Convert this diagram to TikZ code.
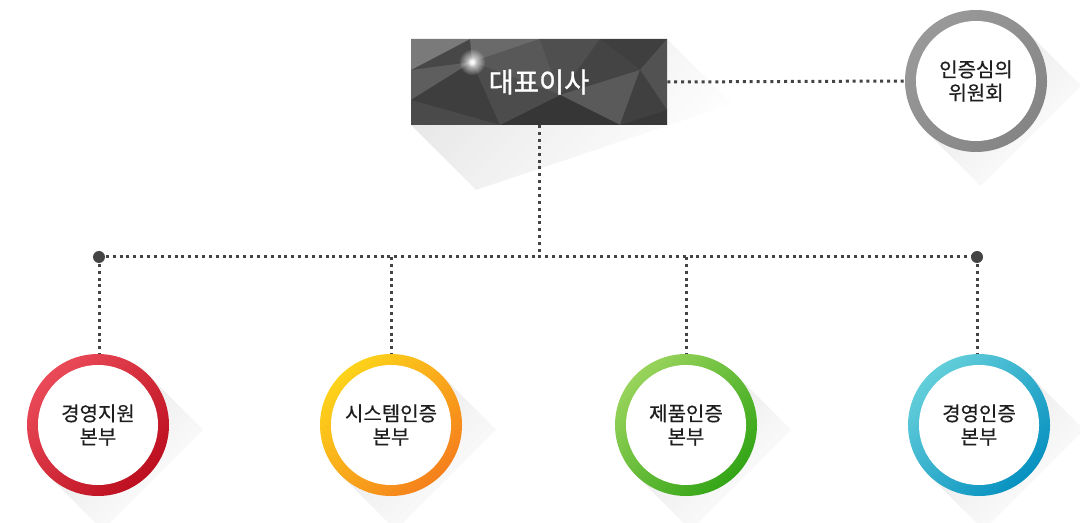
\documentclass[tikz,border=0pt]{standalone}
\usepackage{fontspec}
\newfontfamily\kr{Noto Sans CJK KR}
\newfontfamily\krb[FakeBold=1.2]{Noto Sans CJK KR}
\newfontfamily\krm[FakeBold=0.5]{Noto Sans CJK KR}
\usetikzlibrary{calc,fadings}
\definecolor{dotc}{HTML}{444444}
\definecolor{redA}{HTML}{EA4A58}\definecolor{redB}{HTML}{BC0E1E}
\definecolor{yelA}{HTML}{FDD31A}\definecolor{yelB}{HTML}{F5801C}
\definecolor{grnA}{HTML}{98D35B}\definecolor{grnB}{HTML}{33A516}
\definecolor{bluA}{HTML}{63CEDA}\definecolor{bluB}{HTML}{0791C0}
\definecolor{gryA}{HTML}{999999}\definecolor{gryB}{HTML}{858585}
\definecolor{shd}{HTML}{E6E6E6}
\definecolor{txt}{HTML}{1E1E1E}
\definecolor{boxbase}{HTML}{474747}
\tikzfading[name=glowfade, inner color=transparent!5, outer color=transparent!100]
\tikzset{
  dotline/.style={draw=dotc,line width=2.25pt,dash pattern=on 2.25pt off 2.9pt},
  shadowfill/.style={top color=shd,bottom color=white,shading angle=45},
  circtext/.style={circle,minimum size=106.5pt,inner sep=0pt,align=center,text=txt,
     font=\krm\fontsize{15pt}{17.5pt}\selectfont},
  boxnode/.style={minimum width=192pt,minimum height=64.5pt,inner sep=0pt,text=white,
     font=\krb\fontsize{20.5pt}{22pt}\selectfont}
}
\newcommand\trifill[2]{\definecolor{tmpc}{HTML}{#1}\fill[tmpc] #2 -- cycle;}
% name, x, y, colA, colB, text
\newcommand\ringnode[6]{%
  \coordinate (#1-c) at (#2,#3);
  \shade[shadowfill] ($(#1-c)+(50.2,-50.2)$) -- ($(#1-c)+(105.2,4.8)$) -- ($(#1-c)+(4.8,105.2)$) -- ($(#1-c)+(-50.2,50.2)$) -- cycle;
  \shade[top color=#4,bottom color=#5,shading angle=45] (#1-c) circle (53.25pt);
  \fill[white] (#1-c) circle (45pt);
  \node[circtext] (#1) at (#1-c) {#6};
}
\begin{document}
\begin{tikzpicture}[x=0.75pt,y=-0.75pt]
\useasboundingbox (0,0) rectangle (1080,523);
% box shadow
\shade[shadowfill] (411,125) -- (476,190) -- (732,104) -- (667,39) -- cycle;
% box texture
\begin{scope}
\clip (411,39) rectangle (667,125);
\fill[boxbase] (411,39) rectangle (667,125);
\trifill{7A7A7A}{(411,39) -- (470,39) -- (411,70)}
\trifill{6A6A6A}{(470,39) -- (540,39) -- (472,62)}
\trifill{5E5E5E}{(411,70) -- (472,62) -- (411,100)}
\trifill{585858}{(472,62) -- (540,39) -- (560,95)}
\trifill{3E3E3E}{(411,100) -- (472,62) -- (500,125)}
\trifill{4A4A4A}{(411,100) -- (500,125) -- (411,125)}
\trifill{4F4F4F}{(540,39) -- (600,39) -- (560,95)}
\trifill{3F3F3F}{(600,39) -- (667,39) -- (640,70)}
\trifill{444444}{(600,39) -- (640,70) -- (560,95)}
\trifill{525252}{(640,70) -- (667,39) -- (667,110)}
\trifill{5A5A5A}{(560,95) -- (640,70) -- (620,125)}
\trifill{404040}{(640,70) -- (667,110) -- (620,125)}
\trifill{363636}{(500,125) -- (560,95) -- (620,125)}
\trifill{4C4C4C}{(472,62) -- (560,95) -- (500,125)}
\trifill{383838}{(620,125) -- (667,110) -- (667,125)}
\fill[white,path fading=glowfade] (472,62) circle (10pt);
\fill[white,path fading=glowfade] (472,62) circle (3.5pt);
\end{scope}
\node[boxnode] (ceo) at (539,82) {대표이사};
% committee circle
\ringnode{com}{976}{81}{gryA}{gryB}{인증심의\\위원회}
% bottom circles
\ringnode{c1}{98}{425}{redA}{redB}{경영지원\\본부}
\ringnode{c2}{391}{425}{yelA}{yelB}{시스템인증\\본부}
\ringnode{c3}{686}{425}{grnA}{grnB}{제품인증\\본부}
\ringnode{c4}{979}{425}{bluA}{bluB}{경영인증\\본부}
% connectors
\coordinate (hl) at (99,257);
\coordinate (hr) at (977,257);
\draw[dotline] (ceo.east) -- (com.west);
\draw[dotline] (ceo.south) -- (ceo.south |- hl);
\draw[dotline] (hl) -- (hr);
\draw[dotline] (hl) -- (hl |- c1.north);
\draw[dotline] (c2.north |- hl) -- (c2.north);
\draw[dotline] (c3.north |- hl) -- (c3.north);
\draw[dotline] (hr) -- (hr |- c4.north);
\fill[dotc] (hl) circle (4.5pt);
\fill[dotc] (hr) circle (4.5pt);
\end{tikzpicture}
\end{document}
